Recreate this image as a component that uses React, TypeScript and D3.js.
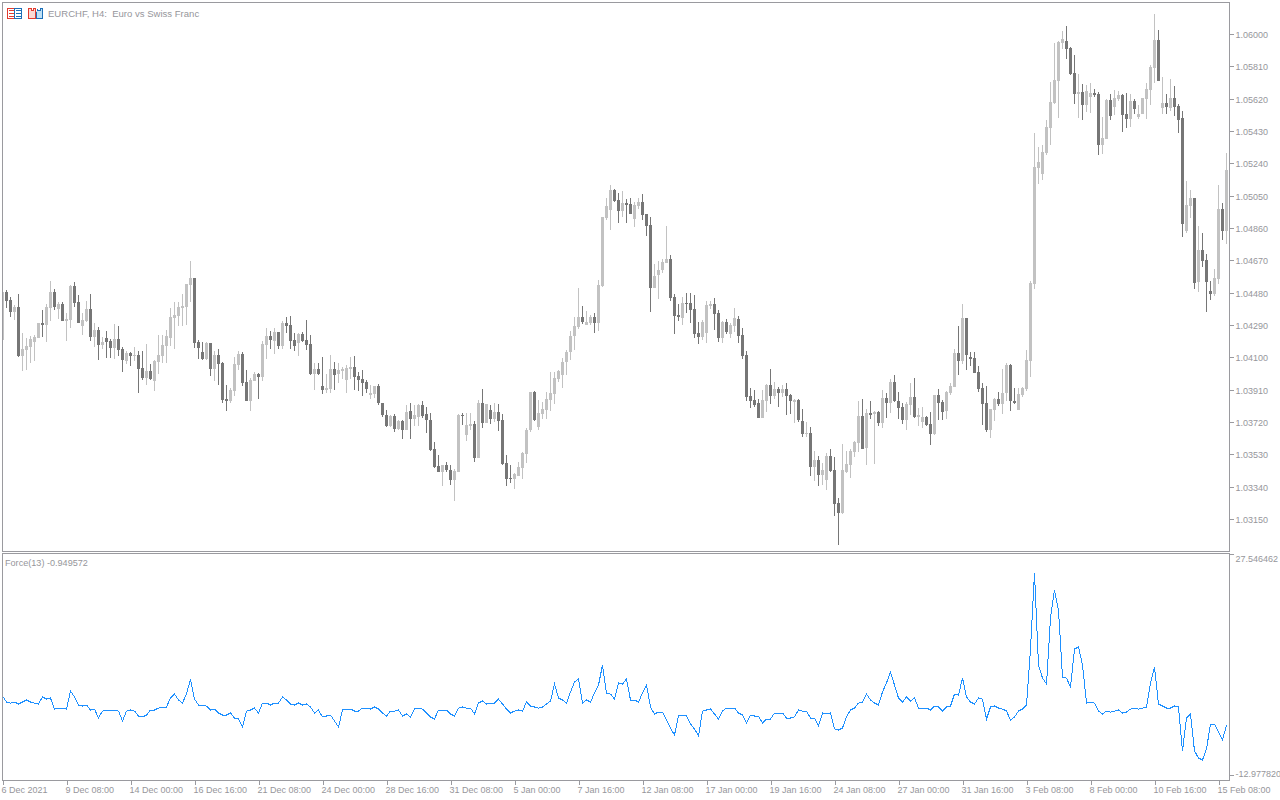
import { useEffect, useRef } from "react"
import * as d3 from "d3"

// prices are kept in points (price * 100000)
const opens = [
  104202,104484,104437,104366,104396,104108,104143,104161,104190,104214,
  104301,104290,104390,104484,104384,104413,104313,104319,104519,104425,
  104284,104313,104384,104220,104261,104173,104214,104196,104155,104208,
  104149,104078,104125,104108,104114,104037,103978,104019,103961,104072,
  104108,104167,104214,104331,104343,104390,104396,104525,104566,104190,
  104131,104090,104184,104031,104114,104066,103855,103843,103902,104054,
  104120,103955,103843,103961,104001,103984,104173,104226,104196,104249,
  104167,104301,104290,104202,104184,104237,104202,104178,104001,104031,
  103932,103908,103914,104031,104001,104019,103967,104031,104043,103990,
  103972,103955,103878,103884,103932,103831,103761,103697,103755,103679,
  103726,103673,103784,103737,103749,103820,103767,103732,103561,103462,
  103426,103468,103438,103379,103426,103761,103644,103697,103708,103509,
  103831,103714,103790,103737,103778,103732,103479,103391,103385,103403,
  103450,103532,103673,103896,103691,103767,103790,103849,103884,103972,
  103996,104072,104131,104226,104278,104337,104290,104301,104337,104301,
  104519,104919,104966,105083,105025,104960,105007,105001,104913,104990,
  105013,104942,104878,104507,104584,104613,104655,104678,104455,104349,
  104331,104419,104419,104384,104243,104220,104243,104402,104413,104360,
  104214,104307,104237,104284,104325,104232,104114,103873,103849,103831,
  103743,103843,103938,103873,103914,103890,103914,103878,103837,103849,
  103726,103650,103655,103456,103497,103409,103379,103520,103438,103244,
  103185,103426,103468,103544,103596,103755,103567,103773,103767,103778,
  103714,103861,103831,103955,103843,103808,103732,103820,103867,103749,
  103720,103749,103708,103650,103878,103837,103784,103890,103926,104125,
  104078,104331,104102,104096,104013,103920,103831,103673,103790,103855,
  103826,103890,104054,103843,103790,103878,103914,104078,104531,105213,
  105177,105301,105448,105595,105724,105947,105959,105918,105771,105648,
  105659,105583,105630,105653,105648,105348,105383,105612,105571,105618,
  105642,105530,105501,105606,105513,105530,105618,105671,105800,105965,
  105565,105595,105565,105624,105577,105507,104842,104990,105036,104543,
  104731,104672,104490,104472,104560,104972,104842,
]

const highs = [
  104490,104496,104455,104408,104472,104243,104214,104226,104232,104301,
  104378,104413,104549,104502,104425,104425,104360,104525,104543,104466,
  104360,104431,104472,104301,104278,104220,104255,104208,104296,104284,
  104161,104137,104131,104161,104137,104137,104178,104060,104084,104232,
  104232,104261,104390,104425,104425,104472,104531,104666,104566,104202,
  104190,104190,104184,104137,104149,104072,103938,103920,104102,104137,
  104131,104025,103978,104013,104007,104196,104272,104255,104272,104249,
  104313,104337,104343,104243,104243,104249,104319,104232,104066,104066,
  104102,104001,104114,104072,104066,104043,104054,104102,104108,104013,
  104025,103967,103938,103932,103943,103831,103790,103761,103767,103732,
  103732,103820,103831,103820,103826,103843,103808,103773,103602,103526,
  103468,103485,103468,103444,103767,103773,103773,103773,103726,103849,
  103914,103826,103820,103831,103826,103767,103526,103468,103420,103485,
  103544,103685,103896,103902,103849,103837,103896,104013,104013,104025,
  104096,104143,104255,104337,104507,104402,104372,104349,104360,104554,
  104925,105036,105113,105089,105066,105077,105031,105036,105013,105036,
  105060,104942,104925,104649,104666,104678,104872,104702,104472,104413,
  104455,104478,104478,104466,104307,104319,104431,104431,104449,104378,
  104313,104325,104301,104390,104343,104272,104137,103920,103908,103855,
  103908,103943,104031,103955,103926,103938,103949,103884,103855,103855,
  103796,103720,103691,103549,103520,103479,103538,103561,103514,103273,
  103591,103549,103561,103608,103843,103855,103796,103843,103784,103784,
  103908,103890,103972,103996,103896,103831,103837,103949,103978,103802,
  103808,103755,103778,103878,103914,103849,103902,103949,104149,104284,
  104413,104331,104131,104131,104049,103949,103932,103796,103861,103896,
  104031,104066,104060,103920,103920,103926,104143,104549,105418,105336,
  105348,105495,105718,105947,105959,106018,106047,105924,105877,105765,
  105706,105700,105712,105677,105659,105513,105618,105648,105671,105665,
  105648,105653,105648,105618,105583,105624,105712,105818,106118,106024,
  105747,105648,105736,105695,105589,105548,105136,105083,105036,104872,
  104831,104707,104549,104619,105113,105007,105301,
]

const lows = [
  104196,104390,104337,104319,104102,104019,104025,104066,104078,104214,
  104220,104190,104313,104378,104325,104313,104196,104272,104396,104301,
  104232,104307,104196,104161,104084,104149,104096,104096,104090,104108,
  104013,104060,104049,104078,103890,103967,103938,103967,103902,104001,
  104066,104066,104167,104149,104284,104284,104290,104425,104155,104090,
  104084,104084,103990,103961,103938,103831,103784,103831,103873,104025,
  103932,103843,103784,103961,103855,103961,104090,104149,104120,104149,
  104149,104243,104149,104137,104108,104190,104143,103996,103908,103996,
  103884,103890,103890,103908,103949,103972,103890,103972,103908,103902,
  103873,103890,103855,103861,103820,103749,103691,103691,103661,103673,
  103620,103673,103620,103697,103697,103743,103655,103549,103450,103426,
  103344,103426,103350,103256,103426,103703,103608,103673,103485,103509,
  103685,103714,103708,103720,103667,103468,103344,103362,103326,103403,
  103385,103479,103661,103726,103673,103737,103737,103784,103826,103955,
  103920,103996,104084,104143,104266,104296,104290,104290,104243,104255,
  104513,104907,104848,105013,104889,104925,104889,104942,104866,104972,
  104907,104813,104366,104507,104443,104596,104655,104431,104237,104313,
  104290,104360,104301,104214,104178,104202,104184,104384,104261,104190,
  104184,104237,104214,104249,104184,104090,103843,103802,103808,103743,
  103743,103778,103826,103855,103808,103867,103761,103767,103714,103720,
  103632,103632,103403,103373,103344,103350,103320,103426,103168,102997,
  103179,103420,103391,103514,103544,103561,103468,103737,103473,103697,
  103685,103743,103773,103837,103737,103708,103673,103761,103743,103697,
  103685,103697,103585,103644,103732,103732,103737,103878,103926,103996,
  104060,104025,104049,104007,103896,103703,103661,103626,103726,103814,
  103767,103843,103784,103826,103790,103867,103902,103984,104502,105119,
  105142,105289,105348,105589,105507,105912,105853,105759,105589,105507,
  105495,105542,105536,105630,105289,105295,105383,105495,105524,105606,
  105424,105448,105454,105530,105501,105530,105501,105583,105712,105724,
  105530,105530,105548,105518,105418,104807,104831,104919,104502,104484,
  104631,104366,104437,104460,104531,104790,104766,
]

const closes = [
  104484,104431,104366,104396,104108,104149,104167,104208,104220,104301,
  104290,104396,104484,104396,104413,104313,104325,104519,104419,104301,
  104319,104384,104220,104261,104173,104190,104190,104155,104208,104143,
  104084,104125,104108,104114,104031,103978,104019,103972,104078,104114,
  104173,104226,104337,104349,104396,104402,104531,104566,104184,104155,
  104090,104184,104031,104114,104060,103849,103843,103908,104060,104120,
  103949,103843,103967,104001,103984,104178,104226,104202,104249,104167,
  104301,104284,104196,104167,104237,104196,104173,104001,104031,104001,
  103908,103920,104031,103996,104025,104031,104037,104043,103984,103967,
  103949,103914,103890,103932,103831,103761,103697,103755,103679,103726,
  103673,103778,103737,103761,103820,103755,103732,103555,103456,103426,
  103468,103438,103379,103432,103761,103755,103703,103708,103509,103831,
  103714,103826,103737,103778,103726,103473,103385,103385,103414,103456,
  103538,103673,103896,103732,103773,103796,103855,103890,103978,104019,
  104072,104131,104226,104284,104337,104307,104307,104337,104301,104525,
  104925,104990,105083,105019,104960,105007,104995,104942,104995,105013,
  104936,104872,104507,104578,104613,104660,104678,104449,104343,104337,
  104419,104413,104378,104237,104220,104307,104408,104413,104354,104214,
  104307,104249,104290,104331,104226,104108,103867,103843,103820,103743,
  103849,103938,103873,103914,103890,103914,103873,103843,103849,103732,
  103650,103655,103456,103497,103409,103438,103520,103432,103238,103185,
  103438,103473,103549,103602,103755,103561,103773,103761,103778,103714,
  103861,103831,103955,103843,103802,103732,103826,103867,103749,103761,
  103749,103703,103650,103878,103831,103778,103896,103932,104125,104078,
  104331,104114,104090,104007,103914,103826,103673,103796,103855,103826,
  103890,104054,103843,103831,103884,103920,104084,104537,105219,105248,
  105307,105454,105601,105730,105953,105971,105912,105765,105648,105659,
  105583,105665,105653,105642,105348,105389,105612,105518,105624,105642,
  105524,105501,105606,105559,105530,105624,105677,105806,105965,105724,
  105595,105571,105624,105571,105495,104884,104995,105036,104537,104731,
  104666,104543,104472,104566,104972,104842,105201,
]

const force = [
  1.5,0.4,0.22,0.4,0.04,0.4,0.77,0.4,0.22,0.04,
  1.32,0.95,1.14,-0.88,-0.7,-0.7,-0.88,2.42,1.32,-0.15,
  -0.33,-0.15,-1.06,-0.88,-2.53,-1.25,-1.06,-1.06,-1.06,-1.25,
  -3.08,-1.25,-1.06,-1.25,-2.16,-2.34,-1.98,-1.06,-1.06,-0.7,
  -0.51,-0.51,1.14,1.87,0.77,0.22,1.87,4.62,0.95,-0.15,
  -0.15,-0.33,-1.06,-0.88,-1.61,-1.98,-1.98,-1.61,-2.53,-2.71,
  -4.18,-1.25,-1.06,-0.7,-1.61,0.22,0.22,-0.15,0.22,0.22,
  1.32,0.77,0.04,-0.15,0.22,-0.15,0.04,-0.51,-1.61,-1.06,
  -2.34,-2.16,-1.98,-3.08,-4.18,-1.06,-0.88,-0.88,-1.25,-1.25,
  -0.7,-0.7,-0.88,-0.51,-0.88,-1.61,-2.16,-1.25,-1.25,-1.06,
  -2.16,-1.79,-2.34,-0.88,-0.7,-0.88,-1.61,-2.34,-2.71,-1.06,
  -1.06,-1.06,-1.79,-2.16,-0.7,-0.51,-0.7,-0.7,-1.79,0.22,
  0.59,0.04,0.22,0.22,0.95,0.04,-0.88,-1.61,-1.25,-1.06,
  -1.25,0.4,-0.33,-0.51,-0.7,-0.51,0.04,0.59,3.7,1.14,
  0.77,0.22,2.24,4.07,4.62,0.22,0.77,0.4,2.05,3.52,
  7.19,2.05,1.87,0.95,3.89,3.7,4.62,0.77,0.77,0.4,
  2.05,3.52,-0.51,-1.79,-1.43,-1.43,-2.89,-4.36,-5.64,-2.16,
  -1.98,-2.16,-3.63,-4.54,-5.82,-1.25,-1.06,-0.88,-1.79,-2.71,
  -1.25,-0.7,-0.7,-0.7,-1.61,-1.98,-3.44,-1.98,-2.16,-2.16,
  -3.44,-2.71,-2.71,-1.61,-1.61,-1.61,-2.53,-2.53,-2.34,-1.06,
  -1.25,-1.25,-2.53,-2.53,-3.99,-1.61,-1.79,-1.61,-4.54,-4.73,
  -4.36,-2.34,-1.06,-0.7,0.22,0.4,1.87,0.77,0.22,-0.15,
  2.24,3.89,5.9,3.52,1.14,0.4,1.32,0.59,1.14,-0.7,
  -0.7,-0.7,-1.06,-0.33,-0.51,-1.25,-0.51,-0.33,1.87,1.69,
  4.8,1.32,0.4,0.04,1.14,0.95,-2.71,-0.51,-0.33,-0.7,
  -0.88,-1.25,-2.89,-2.34,-1.25,-0.88,-0.15,10.12,24.06,7.19,
  4.8,3.7,15.81,20.94,17.28,4.99,4.8,3.15,10.12,10.49,
  7.19,0.22,0.4,0.22,-1.25,-1.79,-1.25,-1.43,-1.25,-1.06,
  -1.61,-1.43,-0.88,-0.7,-0.88,-0.7,-0.51,3.89,6.82,0.04,
  -0.33,-0.7,-0.7,-0.33,-0.51,-8.57,-2.53,-1.79,-8.57,-9.86,
  -10.22,-8.21,-3.63,-3.63,-5.09,-6.56,-3.81,
]

const priceTicks = [
  106000,105810,105620,105430,105240,105050,104860,104670,
  104480,104290,104100,103910,103720,103530,103340,103150,
]
const forceTicks = [27.546462, -12.97782]
const timeLabels = [
  "6 Dec 2021","9 Dec 08:00","14 Dec 00:00","16 Dec 16:00","21 Dec 08:00",
  "24 Dec 00:00","28 Dec 16:00","31 Dec 08:00","5 Jan 00:00","7 Jan 16:00",
  "12 Jan 08:00","17 Jan 00:00","19 Jan 16:00","24 Jan 08:00","27 Jan 00:00",
  "31 Jan 16:00","3 Feb 08:00","8 Feb 00:00","10 Feb 16:00","15 Feb 08:00",
]
const BARS_PER_LABEL = 16

const UP = "#c2c2c2"
const DOWN = "#767676"
const FRAME = "#9a9a9f"
const TEXT = "#96969b"
const FONT = "'Liberation Sans', sans-serif"

export default function App() {
  const svgRef = useRef<SVGSVGElement>(null)

  useEffect(() => {
    if (!svgRef.current) return
    const svg = d3.select(svgRef.current)
    svg.selectAll("*").remove()

    const x = d3.scaleLinear().domain([0, opens.length - 1]).range([2, 1226])
    const y = d3.scaleLinear().domain([106000, 103150]).range([34, 519])
    const yForce = d3.scaleLinear().domain(forceTicks).range([554, 775])

    svg.append("defs").append("clipPath").attr("id", "main")
      .append("rect").attr("x", 3).attr("y", 3).attr("width", 1226).attr("height", 548)
    svg.append("defs").append("clipPath").attr("id", "sub")
      .append("rect").attr("x", 3).attr("y", 554).attr("width", 1226).attr("height", 226)

    // Candles
    const candles = svg.append("g").attr("clip-path", "url(#main)").attr("shape-rendering", "crispEdges")
    const idx = d3.range(opens.length)
    const color = (i: number) => (closes[i] >= opens[i] ? UP : DOWN)
    candles.selectAll(".wick").data(idx).enter().append("rect")
      .attr("x", (i) => x(i)).attr("width", 1)
      .attr("y", (i) => Math.round(y(highs[i])))
      .attr("height", (i) => Math.round(y(lows[i])) - Math.round(y(highs[i])))
      .attr("fill", color)
    candles.selectAll(".body").data(idx).enter().append("rect")
      .attr("x", (i) => x(i) - 1).attr("width", 3)
      .attr("y", (i) => Math.round(y(Math.max(opens[i], closes[i]))))
      .attr("height", (i) => Math.max(1, Math.round(y(Math.min(opens[i], closes[i]))) - Math.round(y(Math.max(opens[i], closes[i])))))
      .attr("fill", color)

    // Force line
    const line = d3.line<number>().x((_, i) => x(i) + 0.5).y((d) => yForce(d))
    svg.append("path").datum(force)
      .attr("clip-path", "url(#sub)")
      .attr("d", line).attr("fill", "none").attr("stroke", "#1e90ff").attr("stroke-width", 1)
      .attr("shape-rendering", "crispEdges")

    // Frames
    const frames = svg.append("g").attr("fill", "none").attr("stroke", FRAME).attr("shape-rendering", "crispEdges")
    frames.append("rect").attr("x", 2.5).attr("y", 2.5).attr("width", 1227).attr("height", 549)
    frames.append("rect").attr("x", 2.5).attr("y", 553.5).attr("width", 1227).attr("height", 227)

    // Right axes
    const priceAxis = d3.axisRight(y).tickValues(priceTicks).tickSize(4).tickPadding(2)
      .tickFormat((d) => (Number(d) / 100000).toFixed(5))
    const forceAxis = d3.axisRight(yForce).tickValues(forceTicks).tickSize(4).tickPadding(2)
      .tickFormat((d) => Number(d).toFixed(6))
    const gPrice = svg.append("g").attr("transform", "translate(1229.5,0)").call(priceAxis)
    const gForce = svg.append("g").attr("transform", "translate(1229.5,0)").call(forceAxis)
    gPrice.selectAll(".tick text").attr("y", 0.5)
    gForce.selectAll(".tick text").attr("dy", (_, i) => (i === 0 ? "0.85em" : "0.2em"))
    for (const g of [gPrice, gForce]) {
      g.select(".domain").remove()
      g.selectAll("line").attr("stroke", FRAME).attr("shape-rendering", "crispEdges")
      g.selectAll("text").attr("fill", TEXT).attr("font-family", FONT).attr("font-size", 9)
    }

    // Time axis
    const timeAxis = d3.axisBottom(x)
      .tickValues(timeLabels.map((_, i) => i * BARS_PER_LABEL))
      .tickSize(4).tickPadding(2)
      .tickFormat((_, i) => timeLabels[i])
    const gTime = svg.append("g").attr("transform", "translate(0.5,780.5)").call(timeAxis)
    gTime.select(".domain").remove()
    gTime.selectAll("line").attr("stroke", FRAME).attr("shape-rendering", "crispEdges")
    gTime.selectAll("text").attr("fill", TEXT).attr("font-family", FONT).attr("font-size", 9)
      .attr("text-anchor", "start").attr("x", -1.5)

    // Titles
    svg.append("text").attr("x", 48).attr("y", 17).attr("fill", TEXT)
      .attr("font-family", FONT).attr("font-size", 9.55).attr("xml:space", "preserve")
      .style("white-space", "pre").text("EURCHF, H4:  Euro vs Swiss Franc")
    svg.append("text").attr("x", 5).attr("y", 566).attr("fill", TEXT)
      .attr("font-family", FONT).attr("font-size", 9.1).text("Force(13) -0.949572")

    // Toolbar icons
    const icons = svg.append("g").attr("shape-rendering", "crispEdges")
    icons.append("rect").attr("x", 7.5).attr("y", 8.5).attr("width", 7).attr("height", 10).attr("fill", "#fff").attr("stroke", "#e23b2e")
    icons.append("rect").attr("x", 14.5).attr("y", 8.5).attr("width", 7).attr("height", 10).attr("fill", "#fff").attr("stroke", "#1c6fb8")
    for (const r of [10, 13, 16]) {
      icons.append("rect").attr("x", 9).attr("y", r).attr("width", 5).attr("height", 1).attr("fill", "#e23b2e")
      icons.append("rect").attr("x", 16).attr("y", r).attr("width", 5).attr("height", 1).attr("fill", "#1c6fb8")
    }
    icons.append("path").attr("d", "M28.5 8.5H31.5V10.5H33.5V8.5H35.5V18.5H28.5Z").attr("fill", "#fbd9d4").attr("stroke", "#e23b2e")
    icons.append("path").attr("d", "M37.5 8.5V10.5H40.5V8.5H42.5V18.5H36.5V11.5").attr("fill", "#bfe0f5").attr("stroke", "#1c6fb8")
  }, [])

  return (
    <svg
      ref={svgRef}
      width={1280}
      height={800}
      style={{ position: "absolute", left: 0, top: 0, background: "#fff" }}
    />
  )
}
